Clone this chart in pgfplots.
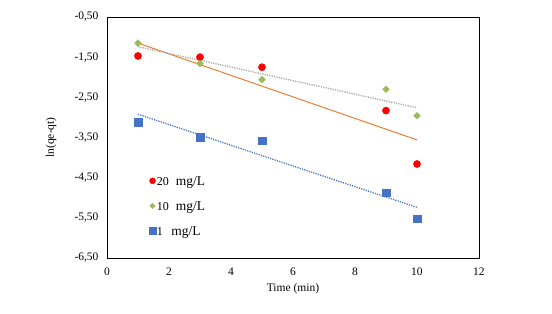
\documentclass[border=0pt]{standalone}
\usepackage{pgfplots}
\pgfplotsset{compat=1.18}
\usepackage{fontspec}
\setmainfont{Liberation Serif}
\definecolor{cred}{RGB}{255,0,0}
\definecolor{cgreen}{RGB}{155,187,89}
\definecolor{cblue}{RGB}{68,114,196}
\definecolor{corange}{RGB}{237,125,49}
\definecolor{cgray}{RGB}{165,165,165}
\begin{document}
\begin{tikzpicture}
\begin{axis}[
 scale only axis, width=372pt, height=241pt,
 xmin=0,xmax=12,ymin=-6.5,ymax=-0.5,
 xtick={0,2,...,12}, ytick={-6.5,-5.5,-4.5,-3.5,-2.5,-1.5,-0.5},
 yticklabel style={/pgf/number format/fixed,/pgf/number format/fixed zerofill,/pgf/number format/precision=2,/pgf/number format/use comma},
 /pgf/number format/assume math mode=true,
 major tick length=0pt,
 axis line style={black, line width=0.9pt},
 font=\fontsize{11.5}{13}\selectfont,
 xticklabel style={yshift=-6.5pt},
 yticklabel style={xshift=-5pt},
 xlabel={Time (min)}, ylabel={ln(qe-qt)},
 xlabel style={at={(axis description cs:0.5,0)},anchor=center,yshift=-31pt},
 ylabel style={at={(axis description cs:-0.15,0.5)},anchor=center},
 clip=false,
 legend style={at={(axis cs:1.26,-4.40)},anchor=north west,draw=none,fill=none,
   font=\fontsize{12}{13}\selectfont,
   nodes={inner sep=1pt,text height=9pt,text depth=3pt},row sep=11pt},
 legend cell align=left,
 legend image code/.code={\draw[#1] plot coordinates {(0.1cm,2pt)};},
]
\path ([xshift=-107pt,yshift=-56pt]rel axis cs:0,0) rectangle ([xshift=73pt,yshift=17pt]rel axis cs:1,1);
\addplot[corange, line width=1pt, forget plot] coordinates {(1,-1.15) (10,-3.56)};
\addplot[cgray, line width=1.3pt, dash pattern=on 1.2pt off 1.2pt, forget plot] coordinates {(1,-1.24) (10,-2.76)};
\addplot[cblue, line width=1.3pt, dash pattern=on 1.2pt off 1.2pt, forget plot] coordinates {(1,-2.92) (10,-5.24)};
\addplot[only marks, mark=*, mark size=3.6pt, mark options={draw=cred,fill=cred}, forget plot] coordinates {(1,-1.47) (3,-1.50) (5,-1.75) (9,-2.83) (10,-4.16)};
\addplot[only marks, mark=square*, mark size=2.4pt, mark options={draw=cgreen,fill=cgreen,rotate=45}, forget plot] coordinates {(1,-1.15) (3,-1.66) (5,-2.06) (9,-2.30) (10,-2.96)};
\addplot[only marks, mark=square*, mark size=3.8pt, mark options={draw=cblue,fill=cblue}, forget plot] coordinates {(1,-3.12) (3,-3.49) (5,-3.58) (9,-4.87) (10,-5.52)};
\addlegendimage{only marks, mark=*, mark size=3pt, mark options={draw=cred,fill=cred}}
\addlegendentry{20\hspace{7pt}{\fontsize{13.5}{14}\selectfont mg/L}}
\addlegendimage{only marks, mark=square*, mark size=1.9pt, mark options={draw=cgreen,fill=cgreen,rotate=45}}
\addlegendentry{10\hspace{7pt}{\fontsize{13.5}{14}\selectfont mg/L}}
\addlegendimage{only marks, mark=square*, mark size=3.3pt, mark options={draw=cblue,fill=cblue}}
\addlegendentry{1\hspace{8.5pt}{\fontsize{13.5}{14}\selectfont mg/L}}
\end{axis}
\end{tikzpicture}
\end{document}
